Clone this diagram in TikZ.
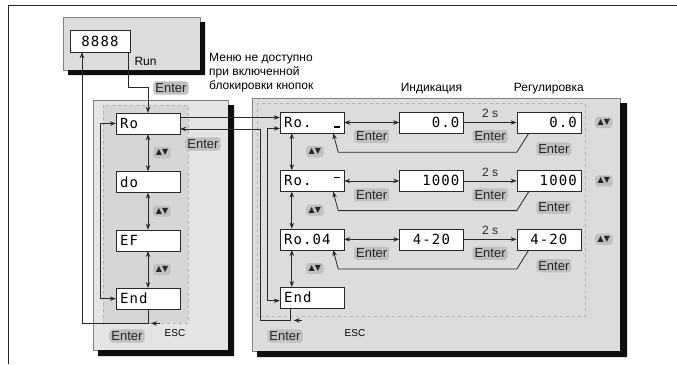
\documentclass[tikz,border=0pt]{standalone}
\usepackage{fontspec}
\setmainfont{Liberation Sans}
\newfontfamily\segfont[LetterSpace=8]{DejaVu Sans Mono}
\newfontfamily\symfont{DejaVu Sans}
\usetikzlibrary{arrows.meta,positioning}
\definecolor{panelcol}{RGB}{228,228,228}
\definecolor{menucol}{RGB}{214,214,214}
\definecolor{rightcol}{RGB}{220,220,220}
\definecolor{btncol}{RGB}{192,192,192}
\definecolor{linecol}{RGB}{40,40,40}
\definecolor{shadowcol}{RGB}{14,14,14}

\begin{document}
\begin{tikzpicture}[x=1pt, y=-1pt,
  node distance=37pt and 54pt,
  every node/.style={font=\fontsize{12}{14}\selectfont},
  disp/.style={draw=linecol, fill=white, minimum width=64pt, minimum height=21pt, text width=56pt, inner sep=3pt, font=\segfont\fontsize{14}{14}\selectfont},
  displ/.style={disp, align=left},
  dispr/.style={disp, align=right},
  btn/.style={fill=btncol, rounded corners=3pt, inner sep=2pt, text=black!85, font=\fontsize{13}{14}\selectfont},
  updn/.style={btn, font=\symfont\fontsize{8}{8}\selectfont, inner sep=2.5pt},
  esctxt/.style={font=\fontsize{10}{10}\selectfont},
  panel/.style={draw=gray, fill=panelcol},
  rim/.style={fill=shadowcol},
  menuarea/.style={draw=gray!60, dashed, fill=menucol},
  arr/.style={-{Stealth[length=6pt, width=4.5pt]}, linecol, line width=0.8pt},
  barr/.style={{Stealth[length=6pt, width=4.5pt]}-{Stealth[length=6pt, width=4.5pt]}, linecol, line width=0.8pt},
]
  \useasboundingbox (0,0) rectangle (677,364);
  \draw[linecol] (677,5) -- (8,5) -- (8,364);

  % Run display
  \draw[panel, fill=rightcol] (63,17) rectangle (200,70);
  \path[rim] (200,22) rectangle (205,75) (68,70) rectangle (205,75);
  \node[disp, minimum width=60pt, minimum height=22pt, text width=52pt, align=center] (run) at (100,41) {8888};
  \node[anchor=west] (runlbl) at (131,61) {Run};
  \node[align=left, anchor=north west, inner sep=0pt] (note) at (209,53) {Меню не доступно\\при включенной\\блокировки кнопок};

  % Left panel
  \draw[panel] (93,100) rectangle (228,350);
  \path[rim] (228,105) rectangle (234,356) (98,350) rectangle (234,356);
  \draw[menuarea] (103,105) rectangle (188,323);
  \node[displ] (ao) at (148,123.5) {Ro};
  \node[displ, below=of ao] (do) {do};
  \node[displ, below=of do] (ef) {EF};
  \node[displ, below=of ef] (endl) {End};

  % Right panel
  \draw[panel, fill=rightcol] (252,98) rectangle (620,351);
  \path[rim] (620,103) rectangle (627,357) (257,351) rectangle (627,357);
  \draw[menuarea, fill=rightcol] (257,103) rectangle (585,316);
  \node[displ] (ra) at (312,122.5) {Ro.\hfill\rule{6pt}{1.2pt}};
  \node[displ, below=of ra] (rb) {Ro.\hfill\raisebox{8pt}{\rule{6pt}{1.2pt}}};
  \node[displ, below=of rb] (rc) {Ro.04};
  \node[displ, below=of rc] (rend) {End};
  \node[dispr, right=55pt of ra] (ia) {0.0};
  \node[dispr, right=53pt of ia] (ga) {0.0};
  \node[dispr, right=55pt of rb] (ib) {1000};
  \node[dispr, right=53pt of ib] (gb) {1000};
  \node[disp, align=center, right=55pt of rc] (ic) {4-20};
  \node[disp, align=center, right=53pt of ic] (gc) {4-20};
  \node[above=14pt of ia] (hind) {Индикация};
  \node[above=14pt of ga] (hreg) {Регулировка};

  % Left menu arrows
  \draw[arr] ([xshift=-2pt]run.south east) |- ([yshift=25pt]ao.north) -- (ao.north);
  \node[btn] (enter0) at (171,88) {Enter};
  \draw[barr] (ao) -- node[updn, right=5pt] (ud1) {▲▼} (do);
  \draw[barr] (do) -- node[updn, right=5pt] (ud2) {▲▼} (ef);
  \draw[barr] (ef) -- node[updn, right=5pt] (ud3) {▲▼} (endl);
  \draw[barr] (ao.west) -- ++(-15,0) |- (endl.west);
  \coordinate (escl) at ([yshift=-14pt]endl.south);
  \draw[arr] (endl.south) -- (escl) -| ([xshift=-18pt]run.south);
  \draw[arr] ([xshift=12pt]escl) -- ([xshift=3pt]escl);
  \node[btn] (enterl) at (127,336) {Enter};
  \node[esctxt] (escll) at (175,333) {ESC};

  % Links between panels
  \draw[arr] ([yshift=6pt]ao.east) -- ([yshift=6pt]ao.east -| ra.west);
  \coordinate (tap) at ([xshift=-19pt,yshift=-6.5pt]ra.west);
  \coordinate (escr) at ([xshift=11pt,yshift=-12pt]rend.south west);
  \draw[arr] ([xshift=11pt]rend.south west) -- (escr) -| (tap) -- (tap -| ao.east);
  \draw[arr] ([xshift=11pt]escr) -- ([xshift=3pt]escr);
  \node[btn] (enterr) at (285,336) {Enter};
  \node[esctxt] (escrl) at (355,333) {ESC};
  \node[btn] (enterm) at (203,144) {Enter};

  % Right menu arrows
  \draw[barr] ([yshift=-6pt]ra.west) -- ++(-12,0) |- ([yshift=-3pt]rend.west);
  \draw[barr] ([xshift=12pt]ra.south west) -- node[updn, right=14pt] (ud4) {▲▼} ([xshift=12pt]rb.north west);
  \draw[barr] ([xshift=12pt]rb.south west) -- node[updn, right=14pt] (ud5) {▲▼} ([xshift=12pt]rc.north west);
  \draw[barr] ([xshift=12pt]rc.south west) -- node[updn, right=14pt] (ud6) {▲▼} ([xshift=12pt]rend.north west);

  % Row 1
  \draw[barr] (ra) -- node[btn, below=7pt] (ea1) {Enter} (ia);
  \draw[arr] (ia) -- node[above=1pt] (ta1) {2 s} node[btn, below=7pt] (eb1) {Enter} (ga);
  \draw[arr] ([xshift=-20pt]ga.south) -- ++(-12,19) -- ([xshift=-6pt,yshift=-19pt]ra.south east) -- ([xshift=-11pt]ra.south east);
  \node[btn, below=9pt of ga, xshift=5pt] (ec1) {Enter};
  \node[updn, right=14pt of ga] (ud7) {▲▼};
  % Row 2
  \draw[barr] (rb) -- node[btn, below=7pt] (ea2) {Enter} (ib);
  \draw[arr] (ib) -- node[above=1pt] (ta2) {2 s} node[btn, below=7pt] (eb2) {Enter} (gb);
  \draw[arr] ([xshift=-20pt]gb.south) -- ++(-12,19) -- ([xshift=-6pt,yshift=-19pt]rb.south east) -- ([xshift=-11pt]rb.south east);
  \node[btn, below=9pt of gb, xshift=5pt] (ec2) {Enter};
  \node[updn, right=14pt of gb] (ud8) {▲▼};
  % Row 3
  \draw[barr] (rc) -- node[btn, below=7pt] (ea3) {Enter} (ic);
  \draw[arr] (ic) -- node[above=1pt] (ta3) {2 s} node[btn, below=7pt] (eb3) {Enter} (gc);
  \draw[arr] ([xshift=-20pt]gc.south) -- ++(-12,19) -- ([xshift=-6pt,yshift=-19pt]rc.south east) -- ([xshift=-11pt]rc.south east);
  \node[btn, below=9pt of gc, xshift=5pt] (ec3) {Enter};
  \node[updn, right=14pt of gc] (ud9) {▲▼};
\end{tikzpicture}
\end{document}
